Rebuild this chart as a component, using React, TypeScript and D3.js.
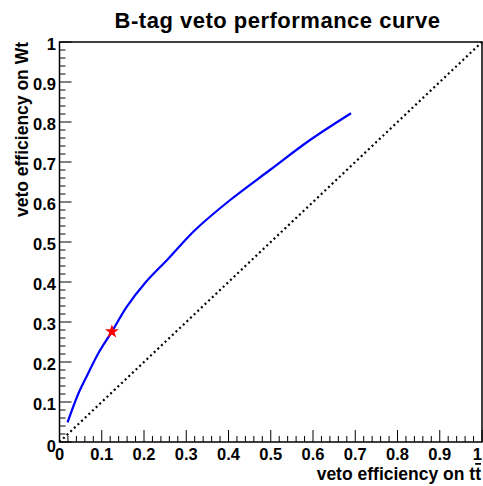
import React from "react";
import * as d3 from "d3";

const curveX = [0.019, 0.045, 0.068, 0.092, 0.124, 0.159, 0.202, 0.258, 0.321, 0.404, 0.498, 0.593, 0.69];
const curveY = [0.049, 0.122, 0.172, 0.222, 0.276, 0.338, 0.397, 0.459, 0.53, 0.605, 0.68, 0.755, 0.822];
const workingPoint = [0.124, 0.276];
const diagX = [0, 1];
const diagY = [0, 1];
const majorTicks = [0, 0.1, 0.2, 0.3, 0.4, 0.5, 0.6, 0.7, 0.8, 0.9, 1];
const tickLabels = ["0", "0.1", "0.2", "0.3", "0.4", "0.5", "0.6", "0.7", "0.8", "0.9", "1"];
const minorTicks = d3.range(0, 51).map((i) => i * 0.02).filter((v) => Math.abs(v * 10 - Math.round(v * 10)) > 1e-6);

const title = "B-tag veto performance curve";
const xTitle = "veto efficiency on t";
const yTitle = "veto efficiency on Wt";

const W = 483, H = 486;
const L = 59.5, R = 482, T = 42, B = 442;

export default function App() {
  const x = d3.scaleLinear().domain([0, 1]).range([L, R]);
  const y = d3.scaleLinear().domain([0, 1]).range([B, T]);
  const line = d3.line<number>().x((d, i) => x(curveX[i])).y((d, i) => y(curveY[i])).curve(d3.curveCatmullRom.alpha(0.5));
  const diag = d3.line<number>().x((d, i) => x(diagX[i])).y((d, i) => y(diagY[i]));
  const star = d3.symbol().type(d3.symbolStar).size(60)();
  const font = "'Liberation Sans', Arial, Helvetica, sans-serif";
  return (
    <svg width={W} height={H} style={{ position: "absolute", left: 0, top: 0, background: "white" }} fontFamily={font}>
      <rect x={0} y={0} width={W} height={H} fill="white" />
      <text x={277.5} y={28} textAnchor="middle" fontSize={22} fontWeight="bold" letterSpacing={0.5}>{title}</text>
      {/* diagonal */}
      <path d={diag(diagX) || ""} fill="none" stroke="black" strokeWidth={2.2} strokeDasharray="2 3" />
      {/* curve */}
      <path d={line(curveX) || ""} fill="none" stroke="#0000ff" strokeWidth={2.2} />
      <path d={star || ""} transform={`translate(${x(workingPoint[0])},${y(workingPoint[1])})`} fill="#ff0000" />
      {/* frame */}
      <rect x={L} y={T} width={R - L} height={B - T} fill="none" stroke="black" strokeWidth={1.5} />
      {/* x ticks */}
      {majorTicks.map((v, i) => (
        <line key={"xM" + i} x1={x(v)} x2={x(v)} y1={B} y2={B - 12} stroke="black" strokeWidth={1} />
      ))}
      {minorTicks.map((v, i) => (
        <line key={"xm" + i} x1={x(v)} x2={x(v)} y1={B} y2={B - 6} stroke="black" strokeWidth={1} />
      ))}
      {majorTicks.map((v, i) => (
        <line key={"yM" + i} x1={L} x2={L + 12} y1={y(v)} y2={y(v)} stroke="black" strokeWidth={1} />
      ))}
      {minorTicks.map((v, i) => (
        <line key={"ym" + i} x1={L} x2={L + 6} y1={y(v)} y2={y(v)} stroke="black" strokeWidth={1} />
      ))}
      {majorTicks.map((v, i) => (
        <text key={"xl" + i} x={i === 10 ? W - 1 : x(v)} y={B + 18} textAnchor={i === 10 ? "end" : "middle"} fontSize={16.5} fontWeight="bold">{tickLabels[i]}</text>
      ))}
      {majorTicks.map((v, i) => (
        <text key={"yl" + i} x={L - 3.5} y={y(v) + (i === 0 ? 10 : 7.5)} textAnchor="end" fontSize={16.5} fontWeight="bold">{tickLabels[i]}</text>
      ))}
      <text x={481} y={480} textAnchor="end" fontSize={17.5} fontWeight="bold">
        {xTitle}<tspan style={{ textDecoration: "overline" }}>t</tspan>
      </text>
      <text transform={`translate(28,${T}) rotate(-90)`} textAnchor="end" fontSize={17.5} fontWeight="bold">{yTitle}</text>
    </svg>
  );
}
